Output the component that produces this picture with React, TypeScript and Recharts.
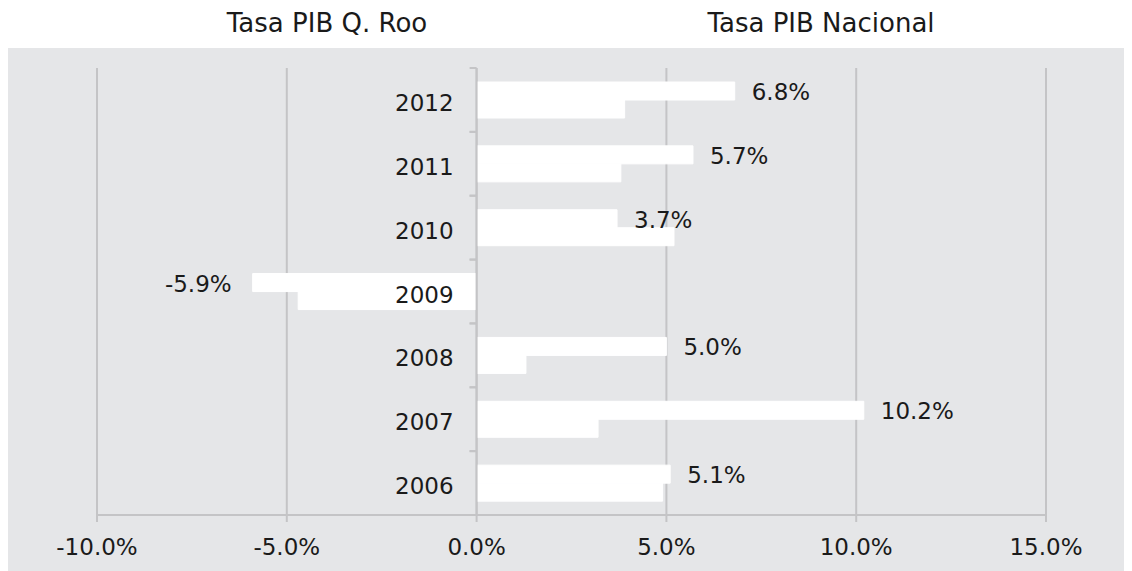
import React from 'react';
import { BarChart, Bar, XAxis, YAxis, CartesianGrid, ReferenceLine, LabelList } from 'recharts';

const YEARS = ['2006', '2007', '2008', '2009', '2010', '2011', '2012'];
const QROO = [5.1, 10.2, 5.0, -5.9, 3.7, 5.7, 6.8];
const NACIONAL = [4.9, 3.2, 1.3, -4.7, 5.2, 3.8, 3.9];
const SERIES_NAMES = ['Tasa PIB Q. Roo', 'Tasa PIB Nacional'];
const X_TICKS = [-10, -5, 0, 5, 10, 15];

const data = YEARS.map((y, i) => ({ year: y, qroo: QROO[i], nacional: NACIONAL[i] }));

const FONT = '"DejaVu Sans", sans-serif';
const BG = '#e5e6e8';
const GRID = '#c4c4c6';
const TEXT = '#1a1a1a';

const W = 1124;
const H = 523;
const YAXIS_W = 20;
const MARGIN = { top: 20, right: 86, bottom: 24, left: 89 - YAXIS_W };
const XAXIS_H = 32;
const XMIN = -10;
const XMAX = 15;
const PLOT_LEFT = MARGIN.left + YAXIS_W;
const PLOT_W = W - PLOT_LEFT - MARGIN.right;
const PLOT_H = H - MARGIN.top - MARGIN.bottom - XAXIS_H;
const BAND = PLOT_H / YEARS.length;
const ZERO_X = PLOT_LEFT + ((0 - XMIN) / (XMAX - XMIN)) * PLOT_W;

const YearTick = (props: any) => {
  const { y, payload } = props;
  return (
    <g>
      <line x1={ZERO_X - 7} x2={ZERO_X} y1={y - BAND / 2} y2={y - BAND / 2} stroke={GRID} strokeWidth={2} />
      <line x1={ZERO_X - 7} x2={ZERO_X} y1={y + BAND / 2} y2={y + BAND / 2} stroke={GRID} strokeWidth={2} />
      <text x={ZERO_X - 23} y={y + 3} textAnchor="end" dominantBaseline="central" fill={TEXT} fontSize={23} fontFamily={FONT}>
        {payload.value}
      </text>
    </g>
  );
};

const ValueLabel = (props: any) => {
  const { x, y, width, height, value } = props;
  const left = Math.min(x, x + width);
  const right = Math.max(x, x + width);
  const cy = y + height / 2 + 1;
  const txt = `${Number(value).toFixed(1)}%`;
  if (value >= 0) {
    return (
      <text x={right + 17} y={cy} textAnchor="start" dominantBaseline="central" fill={TEXT} fontSize={23} fontFamily={FONT}>
        {txt}
      </text>
    );
  }
  return (
    <text x={left - 21} y={cy} textAnchor="end" dominantBaseline="central" fill={TEXT} fontSize={23} fontFamily={FONT}>
      {txt}
    </text>
  );
};

export default function App() {
  return (
    <div style={{ position: 'relative', width: W, height: 563, fontFamily: FONT }}>
      <div style={{ position: 'absolute', left: 319, top: 2, transform: 'translateX(-50%)', fontSize: 26, lineHeight: '26px', color: TEXT, whiteSpace: 'nowrap' }}>
        {SERIES_NAMES[0]}
      </div>
      <div style={{ position: 'absolute', left: 813, top: 2, transform: 'translateX(-50%)', fontSize: 26, lineHeight: '26px', color: TEXT, whiteSpace: 'nowrap' }}>
        {SERIES_NAMES[1]}
      </div>
      <div style={{ position: 'absolute', left: 0, top: 40, width: W, height: H, background: BG }}>
        <BarChart width={W} height={H} data={data} layout="vertical" margin={MARGIN} barGap={0} barSize={18}>
          <CartesianGrid horizontal={false} vertical={true} stroke={GRID} strokeWidth={2} />
          <XAxis
            type="number"
            domain={[XMIN, XMAX]}
            ticks={X_TICKS}
            allowDataOverflow
            height={XAXIS_H}
            tickFormatter={(v: number) => `${v.toFixed(1)}%`}
            axisLine={{ stroke: GRID, strokeWidth: 2 }}
            tickLine={{ stroke: GRID, strokeWidth: 2 }}
            tickSize={7}
            tickMargin={17}
            tick={{ fill: TEXT, fontSize: 23, fontFamily: FONT }}
          />
          <YAxis
            type="category"
            dataKey="year"
            reversed
            width={YAXIS_W}
            axisLine={false}
            tickLine={false}
            tick={(p: any) => <YearTick {...p} />}
            interval={0}
          />
          <Bar dataKey="qroo" name={SERIES_NAMES[0]} fill="#ffffff" stroke="#ffffff" strokeWidth={1} isAnimationActive={false}>
            <LabelList dataKey="qroo" content={<ValueLabel />} />
          </Bar>
          <Bar dataKey="nacional" name={SERIES_NAMES[1]} fill="#ffffff" stroke="#ffffff" strokeWidth={1} isAnimationActive={false} />
          <ReferenceLine x={0} stroke={GRID} strokeWidth={2} />
        </BarChart>
      </div>
    </div>
  );
}
